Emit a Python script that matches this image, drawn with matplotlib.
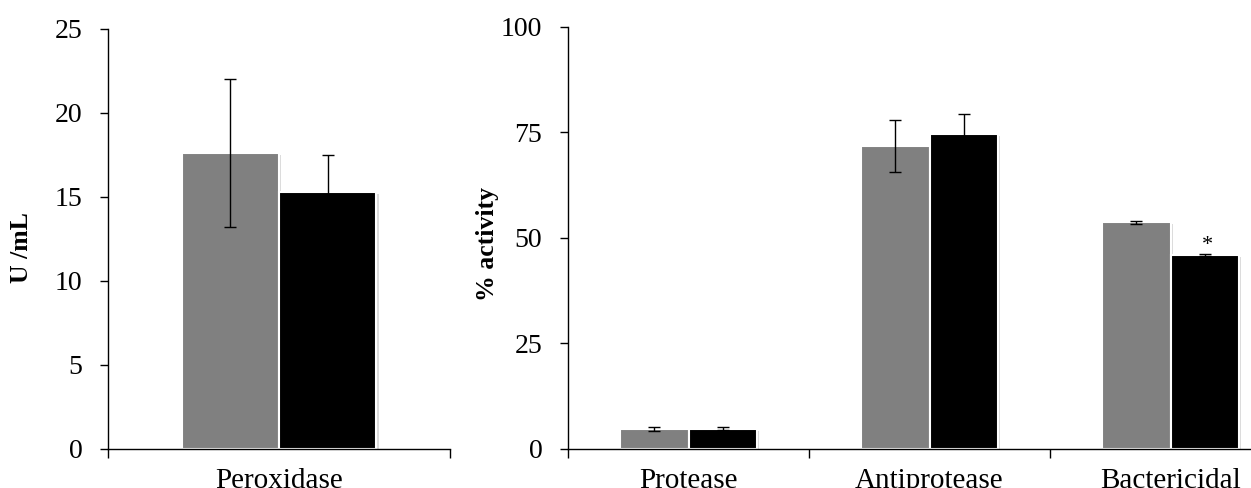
import matplotlib.pyplot as plt
import matplotlib.patheffects as pe
import numpy as np

plt.rcParams['font.family'] = ['Liberation Serif', 'DejaVu Serif']

# data
left_cats = ['Peroxidase']
left_gray = [17.6]
left_gray_err = [4.4]
left_black = [15.3]
left_black_err = [2.2]

right_cats = ['Protease', 'Antiprotease', 'Bactericidal']
right_gray = [4.7, 71.8, 53.7]
right_gray_err = [0.5, 6.1, 0.4]
right_black = [4.8, 74.7, 45.9]
right_black_err = [0.3, 4.7, 0.3]
star_flags = [False, False, True]

W, H = 1251, 488
fig = plt.figure(figsize=(W / 100, H / 100), dpi=100)

ax1 = fig.add_axes([108 / W, (H - 449) / H, 342 / W, 420 / H])
ax2 = fig.add_axes([568 / W, (H - 449) / H, 723 / W, 422.3 / H])

bw = 0.285
shadow = [pe.SimplePatchShadow(offset=(1.5, -1.5), shadow_rgbFace='#999999', alpha=0.35), pe.Normal()]


def draw(ax, cats, g, ge, b, be, ymax, yticks):
    x = np.arange(len(cats))
    bars_g = ax.bar(x - bw / 2, g, bw, color='#808080', edgecolor='white', linewidth=1.5, zorder=2)
    bars_b = ax.bar(x + bw / 2, b, bw, color='#000000', edgecolor='white', linewidth=1.5, zorder=2)
    for r in list(bars_g) + list(bars_b):
        r.set_path_effects(shadow)
    ax.errorbar(x - bw / 2, g, yerr=ge, fmt='none', ecolor='black', elinewidth=1, capsize=4.5, capthick=1, zorder=3)
    ax.errorbar(x + bw / 2, b, yerr=be, fmt='none', ecolor='black', elinewidth=1, capsize=4.5, capthick=1, zorder=3)

    ax.set_xlim(-0.5, len(cats) - 0.5)
    ax.set_ylim(0, ymax)
    ax.set_yticks(yticks)
    ax.set_xticks(x)
    ax.set_xticklabels(cats)
    ax.set_xticks(np.arange(len(cats) + 1) - 0.5, minor=True)
    ax.tick_params(axis='x', which='major', length=0, pad=14, labelsize=21)
    ax.tick_params(axis='x', which='minor', length=6.5, width=1, direction='out')
    ax.tick_params(axis='y', length=6, width=1, direction='out', pad=12.5, labelsize=20)
    for s in ['top', 'right']:
        ax.spines[s].set_visible(False)
    for s in ['left', 'bottom']:
        ax.spines[s].set_linewidth(1)
    return x


draw(ax1, left_cats, left_gray, left_gray_err, left_black, left_black_err, 25, [0, 5, 10, 15, 20, 25])
x2 = draw(ax2, right_cats, right_gray, right_gray_err, right_black, right_black_err, 100, [0, 25, 50, 75, 100])

for xi, v, e, f in zip(x2, right_black, right_black_err, star_flags):
    if f:
        ax2.annotate('*', (xi + bw / 2, v + e), xytext=(2, -1), textcoords='offset points',
                     ha='center', va='bottom', fontsize=16)

fig.text(22 / W, (H - 248) / H, 'U /mL', rotation=90, ha='center', va='center',
         fontsize=18.5, fontweight='bold')
fig.text(487.5 / W, (H - 244) / H, '% activity', rotation=90, ha='center', va='center',
         fontsize=18.5, fontweight='bold')

fig.savefig('out.png', dpi=100)
